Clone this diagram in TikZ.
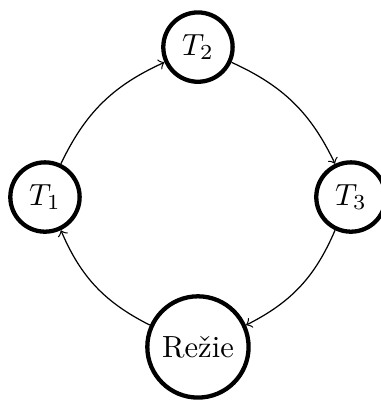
\documentclass[tikz,border=0pt]{standalone}
\usepackage{tikz}
\usetikzlibrary{positioning}

\begin{document}
\begin{tikzpicture}[
    node distance=1.2cm,
    state/.style={circle, draw=black, line width=1.4pt, font=\normalsize},
    arrow/.style={->, thin}
]
    \useasboundingbox (-64.7pt,-68.3pt) rectangle (59.5pt,64.4pt);

    \node[state] (t2) at (0pt,49pt) {$T_2$};
    \node[state] (t1) at (-50pt,0pt) {$T_1$};
    \node[state] (t3) at (50pt,0pt) {$T_3$};
    \node[state] (rezie) at (0pt,-49pt) {Režie};

    \draw[arrow] (t1) to[bend left=20] (t2);
    \draw[arrow] (t2) to[bend left=20] (t3);
    \draw[arrow] (t3) to[bend left=20] (rezie);
    \draw[arrow] (rezie) to[bend left=20] (t1);

\end{tikzpicture}
\end{document}
